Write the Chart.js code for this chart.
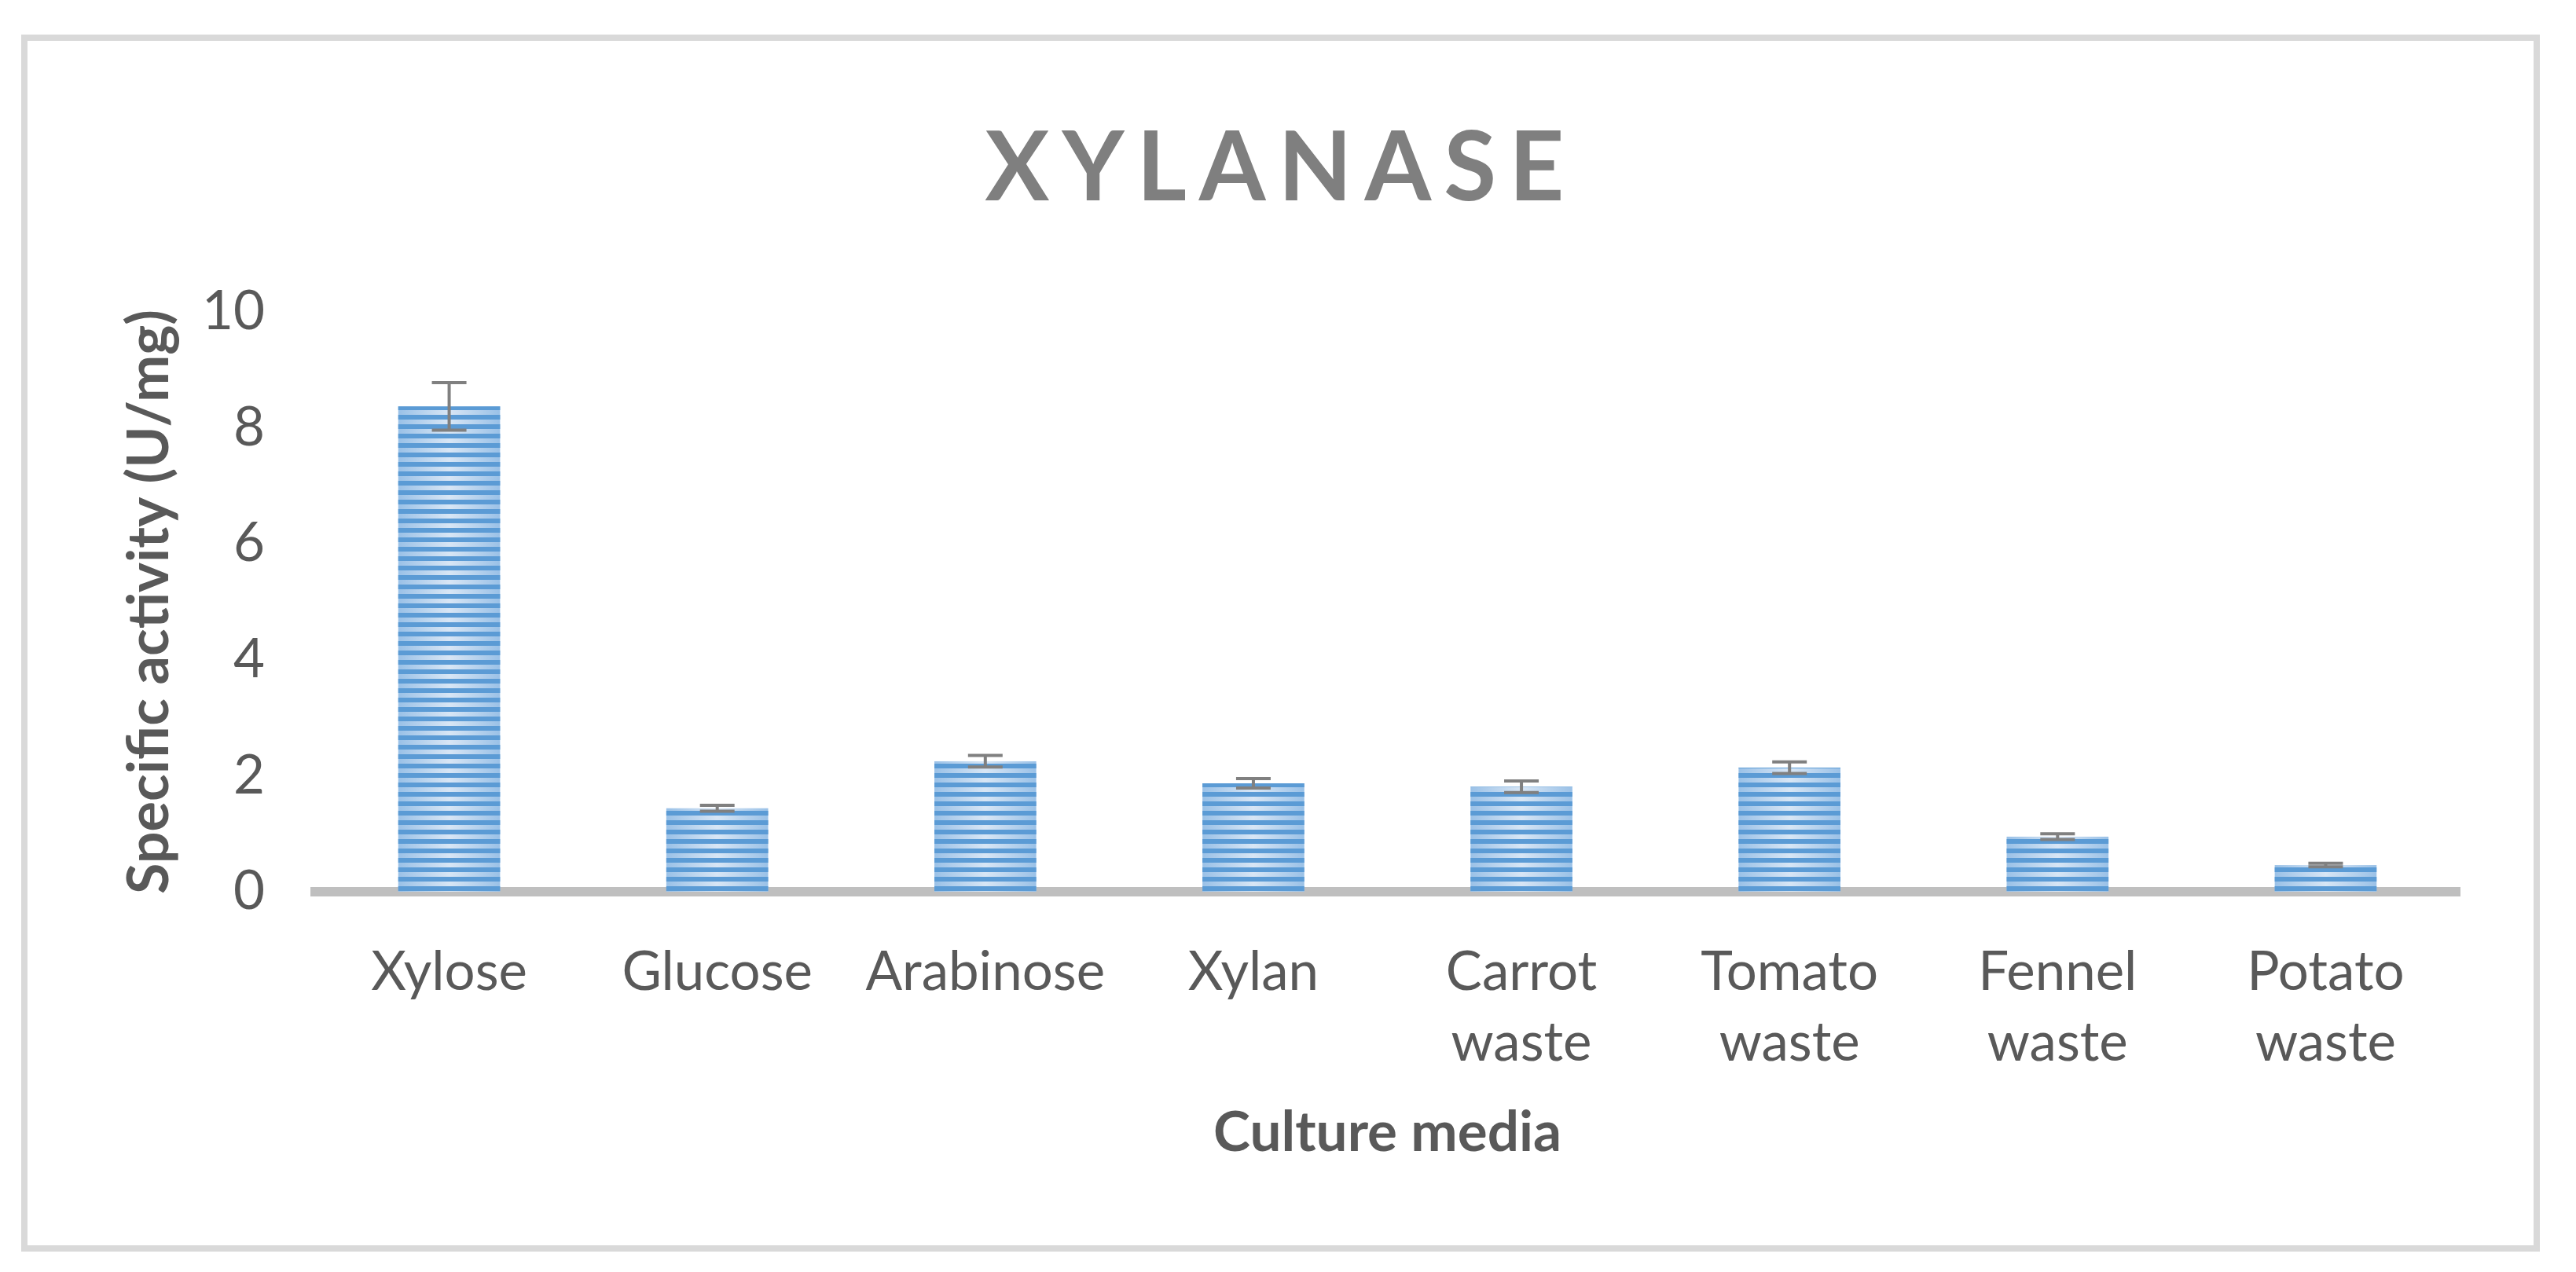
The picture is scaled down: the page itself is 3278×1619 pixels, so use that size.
<!DOCTYPE html>
<html><head><meta charset="utf-8">
<script src="https://cdn.jsdelivr.net/npm/chart.js@4.4.1/dist/chart.umd.min.js"></script>
<style>html,body{margin:0;padding:0;background:#fff;overflow:hidden}canvas{display:block}</style>
</head><body>
<canvas id="c" width="3278" height="1619"></canvas>
<script>
const chartTitle = 'XYLANASE';
const categories = ['Xylose', 'Glucose', 'Arabinose', 'Xylan', ['Carrot', 'waste'], ['Tomato', 'waste'], ['Fennel', 'waste'], ['Potato', 'waste']];
const activity = [8.37, 1.44, 2.25, 1.87, 1.81, 2.14, 0.95, 0.46];
const errors = [0.41, 0.05, 0.10, 0.08, 0.10, 0.10, 0.05, 0.03];
const yTicks = [0, 2, 4, 6, 8, 10];
const yTitle = 'Specific activity (U/mg)';
const xTitle = 'Culture media';

const FONT = 'Lato, "Liberation Sans", sans-serif';

// striped pattern (dark stripes, transparent gaps)
function makeStripes() {
  const c = document.createElement('canvas');
  c.width = 4; c.height = 12;
  const g = c.getContext('2d');
  g.fillStyle = '#5b9bd5';
  g.fillRect(0, 0, 4, 6);
  return g.createPattern(c, 'repeat');
}
const stripes = makeStripes();

const framePlugin = {
  id: 'frame',
  beforeDraw(chart) {
    const ctx = chart.ctx;
    ctx.save();
    ctx.fillStyle = '#fff';
    ctx.fillRect(0, 0, chart.width, chart.height);
    ctx.strokeStyle = '#d9d9d9';
    ctx.lineWidth = 8;
    ctx.strokeRect(31, 48, 3197, 1541);
    ctx.restore();
  },
  afterDraw(chart) {
    const ctx = chart.ctx;
    ctx.save();
    ctx.font = 'bold 122px ' + FONT;
    ctx.fillStyle = '#7f7f7f';
    ctx.textAlign = 'center';
    ctx.textBaseline = 'alphabetic';
    try { ctx.letterSpacing = '16px'; } catch (e) {}
    ctx.fillText(chartTitle, 1630, 255);
    ctx.restore();
  }
};

const barGradientPlugin = {
  id: 'barGradient',
  beforeDatasetsDraw(chart) {
    const ctx = chart.ctx;
    const meta = chart.getDatasetMeta(0);
    ctx.save();
    meta.data.forEach(b => {
      const l = b.x - b.width / 2, r = b.x + b.width / 2;
      const g = ctx.createLinearGradient(l, 0, r, 0);
      g.addColorStop(0, '#9ac1e7');
      g.addColorStop(0.5, '#d8e6f5');
      g.addColorStop(1, '#9ac1e7');
      ctx.fillStyle = g;
      ctx.fillRect(l, b.y, r - l, b.base - b.y);
    });
    ctx.restore();
  }
};

const errorBarPlugin = {
  id: 'errorBars',
  afterDatasetsDraw(chart) {
    const ctx = chart.ctx;
    const meta = chart.getDatasetMeta(0);
    const ys = chart.scales.y;
    ctx.save();
    ctx.strokeStyle = '#808080';
    ctx.lineWidth = 4;
    meta.data.forEach((b, i) => {
      const v = activity[i], e = errors[i];
      const top = ys.getPixelForValue(v + e);
      const bot = ys.getPixelForValue(v - e);
      const half = 22;
      ctx.beginPath();
      ctx.moveTo(b.x, top); ctx.lineTo(b.x, bot);
      ctx.moveTo(b.x - half, top); ctx.lineTo(b.x + half, top);
      ctx.moveTo(b.x - half, bot); ctx.lineTo(b.x + half, bot);
      ctx.stroke();
    });
    ctx.restore();
  }
};

new Chart(document.getElementById('c'), {
  type: 'bar',
  data: {
    labels: categories,
    datasets: [{
      data: activity,
      backgroundColor: stripes,
      borderWidth: 0,
      categoryPercentage: 1,
      barPercentage: 0.38
    }]
  },
  options: {
    responsive: false,
    animation: false,
    devicePixelRatio: 1,
    layout: { padding: { top: 397, right: 148, bottom: 0, left: 0 } },
    plugins: { legend: { display: false }, tooltip: { enabled: false }, title: { display: false } },
    scales: {
      x: {
        z: 1,
        grid: { display: false, drawTicks: false },
        border: { display: true, color: '#bfbfbf', width: 12 },
        ticks: { color: '#595959', padding: 58, font: { family: FONT, size: 69, lineHeight: 1.3 }, maxRotation: 0, autoSkip: false },
        title: { display: true, text: xTitle, color: '#595959', font: { family: FONT, size: 71, weight: 'bold', lineHeight: 1.2 }, padding: { top: 0, bottom: 134 } },
        afterFit(s) { s.height = 484; }
      },
      y: {
        min: 0, max: 10,
        grid: { display: false, drawTicks: false },
        border: { display: false },
        ticks: { color: '#595959', padding: 64, font: { family: FONT, size: 69 } },
        afterBuildTicks(s) { s.ticks = yTicks.map(v => ({ value: v })); },
        title: { display: true, text: yTitle, color: '#595959', font: { family: FONT, size: 72, weight: 'bold', lineHeight: 1.2 }, padding: { top: 148, bottom: 0 } },
        afterFit(s) { s.width = 401; }
      }
    }
  },
  plugins: [framePlugin, barGradientPlugin, errorBarPlugin]
});
</script>
</body></html>
